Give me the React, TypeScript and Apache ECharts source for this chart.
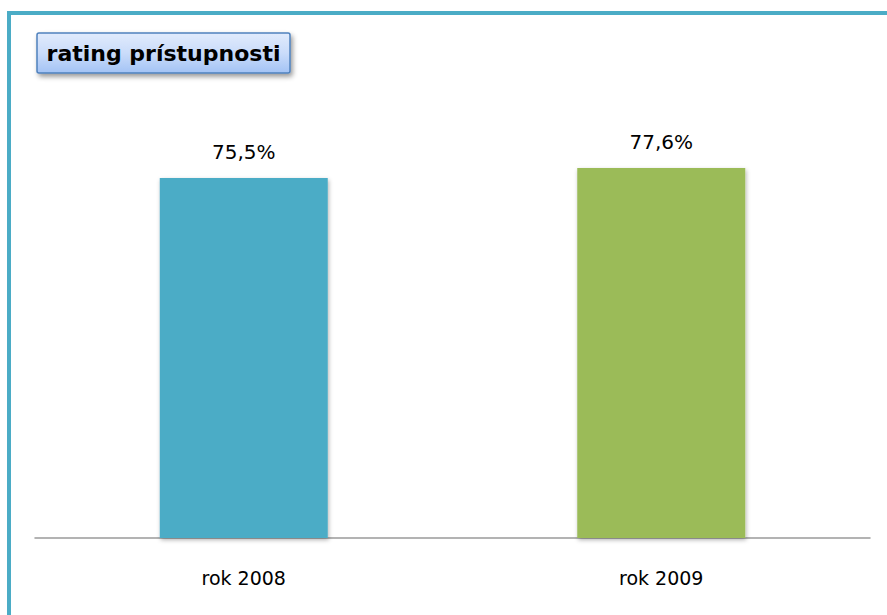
import React, { useEffect, useRef } from "react";
import * as echarts from "echarts";

const categories = ["rok 2008", "rok 2009"];
const values = [75.5, 77.6];
const barColors = ["#4BACC6", "#9BBB59"];
const titleText = "rating prístupnosti";

export default function App() {
  const ref = useRef<HTMLDivElement>(null);
  useEffect(() => {
    if (!ref.current) return;
    const chart = echarts.init(ref.current, null, { renderer: "svg" });
    const font = "'DejaVu Sans', sans-serif";
    chart.setOption({
      animation: false,
      backgroundColor: "#ffffff",
      grid: { left: 35, right: 17, top: 108.8, bottom: 77, containLabel: false },
      xAxis: {
        type: "category",
        data: categories,
        axisLine: { show: true, lineStyle: { color: "#9a9a9a", width: 1.5 } },
        axisTick: { show: false },
        axisLabel: { color: "#000", fontSize: 19, fontFamily: font, margin: 30 },
      },
      yAxis: {
        type: "value",
        min: 0,
        max: 90,
        show: false,
        splitLine: { show: false },
      },
      series: [
        {
          type: "bar",
          barWidth: 168,
          data: values.map((v, i) => ({
            value: v,
            itemStyle: {
              color: barColors[i],
              shadowColor: "rgba(0,0,0,0.3)",
              shadowBlur: 4,
              shadowOffsetX: 1,
              shadowOffsetY: 2,
            },
          })),
          label: {
            show: true,
            position: "top",
            distance: 16,
            color: "#000",
            fontSize: 20,
            fontFamily: font,
            formatter: (p: any) => String(p.value).replace(".", ",") + "%",
          },
        },
      ],
      graphic: [
        {
          type: "rect",
          shape: { x: 9, y: 13, width: 900, height: 700 },
          style: { fill: "none", stroke: "#4BACC6", lineWidth: 4 },
          silent: true,
        },
        {
          type: "group",
          x: 37,
          y: 33,
          children: [
            {
              type: "rect",
              shape: { x: 0, y: 0, width: 253, height: 40, r: 2 },
              style: {
                fill: new echarts.graphic.LinearGradient(0, 0, 0, 1, [
                  { offset: 0, color: "#e1ebfc" },
                  { offset: 0.5, color: "#cadcfa" },
                  { offset: 1, color: "#a3c3f5" },
                ]),
                stroke: "#4f81bd",
                lineWidth: 1.5,
                shadowColor: "rgba(0,0,0,0.4)",
                shadowBlur: 5,
                shadowOffsetX: 2,
                shadowOffsetY: 3,
              },
            },
            {
              type: "text",
              x: 126.5,
              y: 20,
              style: {
                text: titleText,
                fill: "#000",
                fontSize: 22,
                fontWeight: "bold",
                fontFamily: font,
                align: "center",
                verticalAlign: "middle",
              },
            },
          ],
        },
      ],
    });
    return () => chart.dispose();
  }, []);
  return (
    <div
      ref={ref}
      style={{ position: "fixed", left: 0, top: 0, width: 887, height: 615 }}
    />
  );
}
